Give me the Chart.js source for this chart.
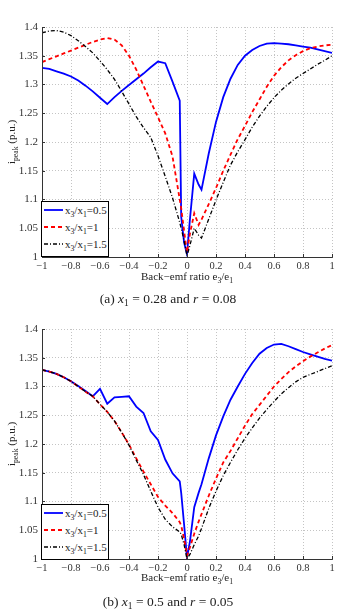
<!DOCTYPE html>
<html>
<head>
<meta charset="utf-8">
<script src="https://cdn.jsdelivr.net/npm/chart.js@4"></script>
<style>
  html, body { margin:0; padding:0; background:#fff; }
  body { width:338px; height:609px; position:relative; overflow:hidden; font-family:"Liberation Serif","DejaVu Serif",serif; color:#222; }
  canvas { position:absolute; left:0; }
  .ytitle { position:absolute; font-size:11px; white-space:nowrap; transform:translate(-50%,-50%) rotate(-90deg); }
  .xtitle { position:absolute; font-size:11px; white-space:nowrap; transform:translate(-50%,-50%); }
  .caption { position:absolute; font-size:13.5px; white-space:nowrap; transform:translate(-50%,-50%); }
  .legend { position:absolute; left:41px; width:66px; height:54px; border:1.5px solid #000; background:#fff; font-size:11px; }
  .legend .row { position:absolute; left:2px; height:14px; display:flex; align-items:center; white-space:nowrap; }
  .legend svg { margin-right:2px; }
  sub { font-size:70%; vertical-align:-0.35em; line-height:0; }
</style>
</head>
<body>
<canvas id="chartA" width="338" height="272" style="top:0px"></canvas>
<canvas id="chartB" width="338" height="272" style="top:302px"></canvas>

<div class="ytitle" style="left:11px; top:142px;">i<sub>peak</sub> (p.u.)</div>
<div class="xtitle" style="left:187px; top:276px;">Back−emf ratio e<sub>3</sub>/e<sub>1</sub></div>
<div class="caption" style="left:168px; top:299px;">(a) <i>x</i><sub>1</sub> = 0.28 and <i>r</i> = 0.08</div>

<div class="ytitle" style="left:11px; top:444px;">i<sub>peak</sub> (p.u.)</div>
<div class="xtitle" style="left:187px; top:577px;">Back−emf ratio e<sub>3</sub>/e<sub>1</sub></div>
<div class="caption" style="left:168px; top:602px;">(b) <i>x</i><sub>1</sub> = 0.5 and <i>r</i> = 0.05</div>

<div class="legend" id="legA" style="top:201px;"></div>
<div class="legend" id="legB" style="top:504px;"></div>

<script>
// ---- data ----
const xValues = [-1,-0.95,-0.9,-0.85,-0.8,-0.75,-0.7,-0.65,-0.6,-0.55,-0.5,-0.45,-0.4,-0.35,-0.3,-0.25,-0.2,-0.15,-0.1,-0.05,-0.04,-0.02,0,0.02,0.05,0.08,0.1,0.15,0.2,0.25,0.3,0.35,0.4,0.45,0.5,0.55,0.6,0.65,0.7,0.75,0.8,0.85,0.9,0.95,1];

const seriesLabels = ['x3/x1=0.5','x3/x1=1','x3/x1=1.5'];

// (a) x1 = 0.28, r = 0.08
const a_ratio05 = [1.329,1.327,1.323,1.319,1.314,1.307,1.298,1.288,1.277,1.266,1.278,1.289,1.299,1.309,1.319,1.330,1.340,1.337,1.305,1.272,1.070,1.025,1.005,1.065,1.145,1.126,1.117,1.180,1.235,1.278,1.310,1.334,1.350,1.360,1.367,1.371,1.372,1.371,1.370,1.368,1.366,1.364,1.361,1.358,1.355];
const a_ratio10 = [1.339,1.344,1.349,1.354,1.359,1.364,1.369,1.374,1.378,1.381,1.378,1.368,1.350,1.326,1.298,1.270,1.243,1.215,1.175,1.100,1.085,1.045,1.008,1.040,1.076,1.056,1.065,1.092,1.120,1.150,1.178,1.205,1.228,1.252,1.274,1.296,1.315,1.330,1.342,1.351,1.358,1.363,1.366,1.368,1.369];
const a_ratio15 = [1.390,1.393,1.394,1.391,1.385,1.376,1.366,1.355,1.341,1.326,1.309,1.288,1.266,1.244,1.225,1.208,1.176,1.140,1.103,1.060,1.050,1.028,1.002,1.020,1.050,1.038,1.033,1.066,1.099,1.130,1.160,1.183,1.204,1.226,1.245,1.262,1.277,1.290,1.301,1.311,1.319,1.327,1.335,1.342,1.350];

// (b) x1 = 0.5, r = 0.05
const b_ratio05 = [1.329,1.326,1.322,1.316,1.309,1.301,1.292,1.283,1.296,1.270,1.281,1.282,1.283,1.265,1.254,1.222,1.207,1.173,1.149,1.135,1.115,1.060,1.002,1.030,1.090,1.115,1.130,1.175,1.215,1.248,1.277,1.300,1.322,1.341,1.357,1.367,1.373,1.374,1.370,1.365,1.360,1.356,1.352,1.348,1.345];
const b_ratio10 = [1.329,1.326,1.322,1.316,1.309,1.300,1.291,1.283,1.269,1.256,1.240,1.220,1.199,1.175,1.152,1.130,1.108,1.093,1.080,1.064,1.058,1.035,1.006,1.020,1.044,1.065,1.078,1.110,1.140,1.168,1.188,1.210,1.232,1.252,1.268,1.284,1.300,1.313,1.325,1.335,1.344,1.352,1.359,1.366,1.372];
const b_ratio15 = [1.329,1.326,1.322,1.316,1.309,1.300,1.291,1.283,1.269,1.256,1.240,1.220,1.198,1.172,1.147,1.118,1.090,1.069,1.056,1.047,1.043,1.025,1.000,1.008,1.025,1.040,1.053,1.088,1.118,1.145,1.168,1.190,1.210,1.228,1.245,1.260,1.274,1.287,1.298,1.308,1.316,1.321,1.326,1.331,1.336];

const xTicks = [-1,-0.8,-0.6,-0.4,-0.2,0,0.2,0.4,0.6,0.8,1];
const yTicks = [1,1.05,1.1,1.15,1.2,1.25,1.3,1.35,1.4];

// ---- styles ----
const styles = [
  { color:'#0000ff', width:1.8, dash:[] },
  { color:'#ff0000', width:1.8, dash:[4,3] },
  { color:'#000000', width:1.3, dash:[4,2,1,2] }
];

function pts(ys){ return xValues.map((x,i)=>({x:x, y:ys[i]})); }
function fmt(v){
  const r = Math.round(v*100)/100;
  if (r === 0) return '0';
  const s = String(Math.abs(r));
  return r < 0 ? '\u2212' + s : s;
}

const inwardTicks = {
  id:'inwardTicks',
  afterDraw(chart){
    const ctx = chart.ctx, a = chart.chartArea;
    const xs = chart.scales.x, ys = chart.scales.y;
    ctx.save();
    ctx.strokeStyle = '#333'; ctx.lineWidth = 1; ctx.setLineDash([]);
    ctx.beginPath();
    xTicks.forEach(v=>{ const p = Math.round(xs.getPixelForValue(v))+0.5; ctx.moveTo(p,a.bottom); ctx.lineTo(p,a.bottom-3); });
    yTicks.forEach(v=>{ const p = Math.round(ys.getPixelForValue(v))+0.5; ctx.moveTo(a.left,p); ctx.lineTo(a.left+3,p); });
    ctx.moveTo(Math.round(a.left)+0.5, a.top); ctx.lineTo(Math.round(a.left)+0.5, a.bottom);
    ctx.moveTo(a.left, Math.round(a.bottom)+0.5); ctx.lineTo(a.right, Math.round(a.bottom)+0.5);
    ctx.stroke();
    ctx.restore();
  }
};

function makeChart(id, sets){
  return new Chart(document.getElementById(id), {
    type:'line',
    data:{ datasets: sets.map((ys,i)=>({
      label: seriesLabels[i], data: pts(ys),
      borderColor: styles[i].color, borderWidth: styles[i].width, borderDash: styles[i].dash,
      pointRadius:0, tension:0, fill:false
    })).reverse() },
    options:{
      responsive:false, animation:false, devicePixelRatio:1,
      layout:{ padding:{ top:27, right:6, left:0, bottom:0 } },
      plugins:{ legend:{display:false}, tooltip:{enabled:false} },
      scales:{
        x:{ type:'linear', min:-1, max:1,
            afterBuildTicks(s){ s.ticks = xTicks.map(v=>({value:v})); },
            afterFit(s){ s.height = 15; },
            ticks:{ callback:fmt, color:'#333', padding:3, maxRotation:0, autoSkip:false,
                    font:{ family:'"Liberation Serif", serif', size:10.5 } },
            grid:{ color:'#b5b5b5', lineWidth:0.8, drawTicks:false },
            border:{ display:true, color:'#333', width:1, dash:[1,2] } },
        y:{ min:1, max:1.4,
            afterBuildTicks(s){ s.ticks = yTicks.map(v=>({value:v})); },
            afterFit(s){ s.width = 42; },
            ticks:{ callback:fmt, color:'#333', padding:4, autoSkip:false,
                    font:{ family:'"Liberation Serif", serif', size:11 } },
            grid:{ color:'#b5b5b5', lineWidth:0.8, drawTicks:false },
            border:{ display:true, color:'#333', width:1, dash:[1,2] } }
      }
    },
    plugins:[inwardTicks]
  });
}

makeChart('chartA', [a_ratio05, a_ratio10, a_ratio15]);
makeChart('chartB', [b_ratio05, b_ratio10, b_ratio15]);

// ---- legends (HTML, text kept as text) ----
function buildLegend(id){
  const el = document.getElementById(id);
  const tops = [4, 21, 38];
  styles.forEach((st,i)=>{
    const row = document.createElement('div');
    row.className='row'; row.style.top = (tops[i]-3)+'px';
    const val = seriesLabels[i].split('=')[1];
    row.innerHTML = '<svg width="19" height="6"><line x1="0" y1="3" x2="19" y2="3" stroke="'+st.color+'" stroke-width="'+st.width+'" stroke-dasharray="'+(st.dash.length?st.dash.join(','):'none')+'"/></svg>' +
      '<span>x<sub>3</sub>/x<sub>1</sub>=' + val + '</span>';
    el.appendChild(row);
  });
}
buildLegend('legA');
buildLegend('legB');
</script>
</body>
</html>
